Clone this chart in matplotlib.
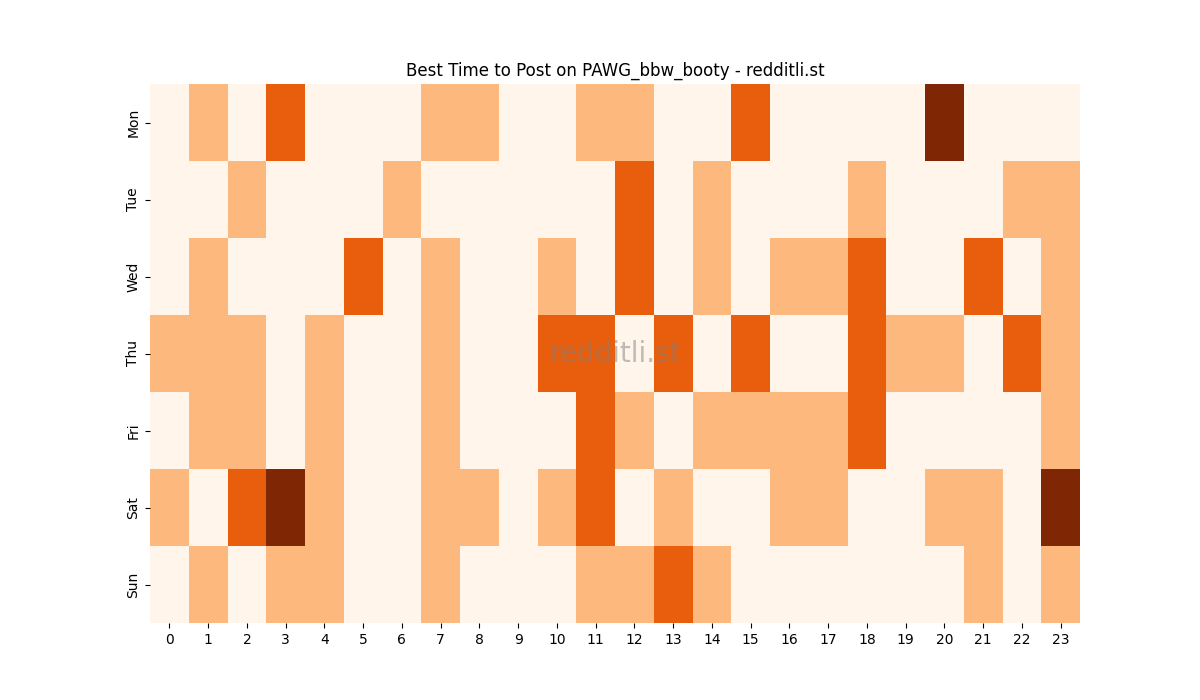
import matplotlib
matplotlib.use("Agg")
import matplotlib.pyplot as plt
import numpy as np
import seaborn as sns

days = ["Mon", "Tue", "Wed", "Thu", "Fri", "Sat", "Sun"]
hours = list(range(24))

mon = [0,1,0,2,0,0,0,1,1,0,0,1,1,0,0,2,0,0,0,0,3,0,0,0]
tue = [0,0,1,0,0,0,1,0,0,0,0,0,2,0,1,0,0,0,1,0,0,0,1,1]
wed = [0,1,0,0,0,2,0,1,0,0,1,0,2,0,1,0,1,1,2,0,0,2,0,1]
thu = [1,1,1,0,1,0,0,1,0,0,2,2,0,2,0,2,0,0,2,1,1,0,2,1]
fri = [0,1,1,0,1,0,0,1,0,0,0,2,1,0,1,1,1,1,2,0,0,0,0,1]
sat = [1,0,2,3,1,0,0,1,1,0,1,2,0,1,0,0,1,1,0,0,1,1,0,3]
sun = [0,1,0,1,1,0,0,1,0,0,0,1,1,2,1,0,0,0,0,0,0,1,0,1]

data = np.array([mon, tue, wed, thu, fri, sat, sun])

fig, ax = plt.subplots(figsize=(12, 7), dpi=100)
sns.heatmap(data, cmap="Oranges", cbar=False, ax=ax, xticklabels=hours, yticklabels=days)
ax.set_title("Best Time to Post on PAWG_bbw_booty - redditli.st")
ax.text(0.5, 0.5, "redditli.st", transform=ax.transAxes, ha="center", va="center",
        fontsize=20, color="gray", alpha=0.5)
plt.setp(ax.get_xticklabels(), rotation=0)
plt.setp(ax.get_yticklabels(), rotation=90, va="center")
fig.savefig("out.png")
